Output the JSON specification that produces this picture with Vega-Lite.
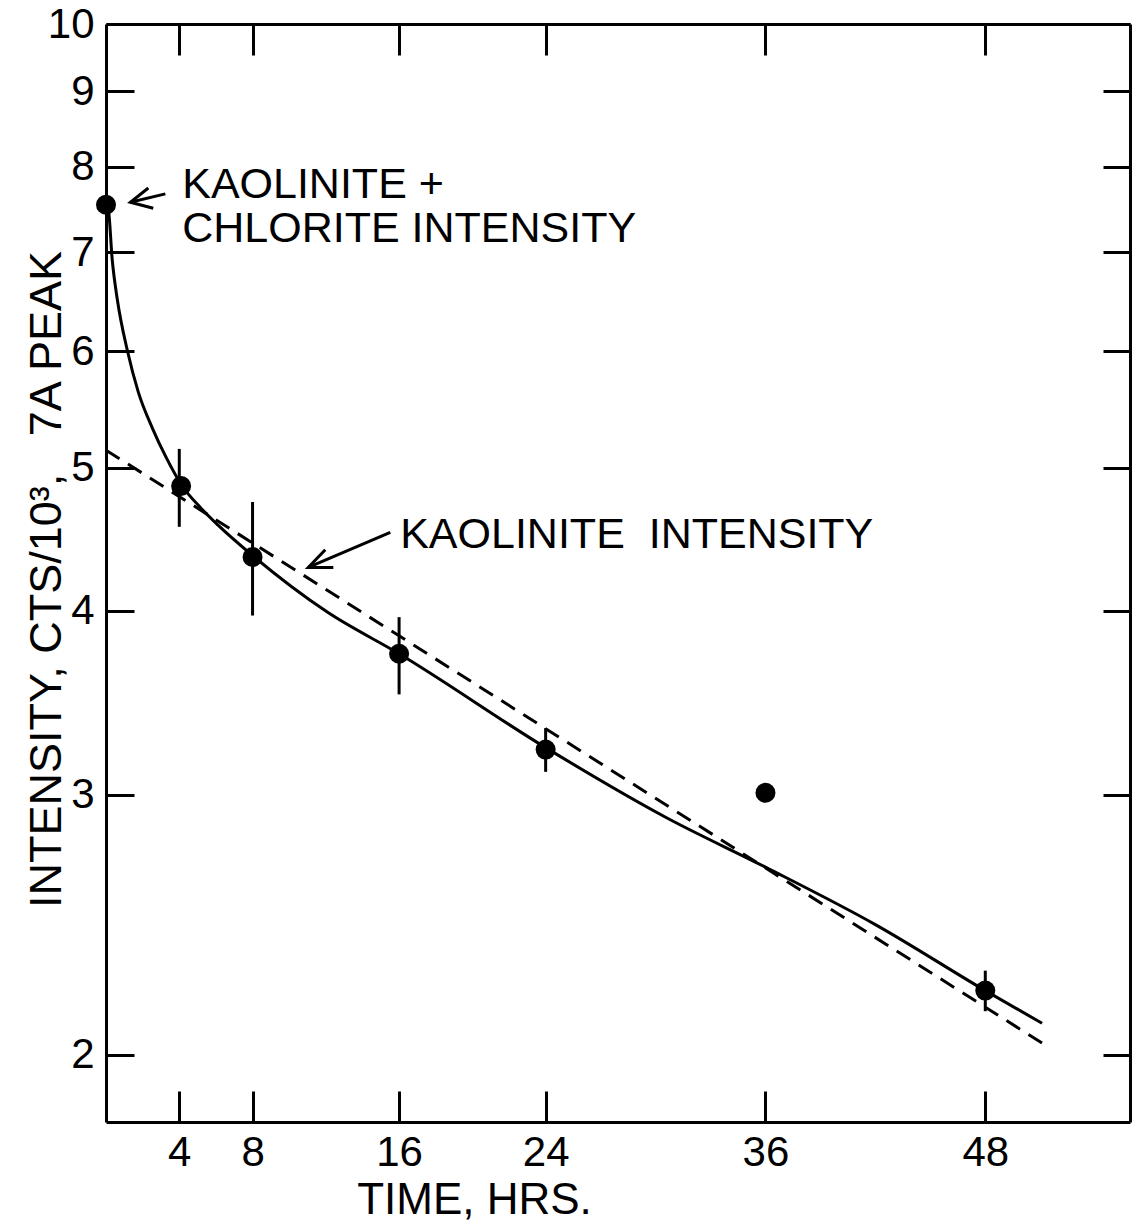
{
  "$schema": "https://vega.github.io/schema/vega-lite/v6.json",
  "width": 1024,
  "height": 1098,
  "autosize": {"type": "none"},
  "padding": {"left": 106, "top": 24, "right": 9, "bottom": 109},
  "background": "white",
  "config": {
    "view": {"stroke": null},
    "font": "Liberation Sans",
    "axis": {
      "domainColor": "black",
      "domainWidth": 3,
      "tickColor": "black",
      "tickWidth": 3,
      "labelColor": "black",
      "titleColor": "black",
      "labelFont": "Liberation Sans",
      "titleFont": "Liberation Sans",
      "labelFontSize": 42,
      "titleFontSize": 44,
      "titleFontWeight": "normal",
      "grid": false
    }
  },
  "datasets": {
    "solid": [
      {"t": 0, "v": 7.54}, {"t": 0.13, "v": 7.48}, {"t": 0.34, "v": 6.92}, {"t": 0.62, "v": 6.5},
      {"t": 1.16, "v": 6.01}, {"t": 1.76, "v": 5.63}, {"t": 2.53, "v": 5.32}, {"t": 3.29, "v": 5.08},
      {"t": 4.16, "v": 4.86}, {"t": 5.15, "v": 4.7}, {"t": 6.13, "v": 4.57}, {"t": 8, "v": 4.36},
      {"t": 12.1, "v": 3.99}, {"t": 16, "v": 3.74}, {"t": 24, "v": 3.23}, {"t": 30.6, "v": 2.895},
      {"t": 36, "v": 2.68}, {"t": 42, "v": 2.45}, {"t": 48, "v": 2.21}, {"t": 51.1, "v": 2.1}
    ],
    "dashed": [
      {"t": 0, "v": 5.14}, {"t": 24, "v": 3.327}, {"t": 51.4, "v": 2.025}
    ],
    "pts": [
      {"t": 0, "v": 7.54},
      {"t": 4.1, "v": 4.86},
      {"t": 8, "v": 4.35},
      {"t": 16, "v": 3.74},
      {"t": 24, "v": 3.22},
      {"t": 36, "v": 3.01},
      {"t": 48, "v": 2.21}
    ],
    "errs": [
      {"t": 4, "lo": 4.56, "hi": 5.15},
      {"t": 8, "lo": 3.97, "hi": 4.74},
      {"t": 16, "lo": 3.51, "hi": 3.96},
      {"t": 24, "lo": 3.11, "hi": 3.33},
      {"t": 48, "lo": 2.14, "hi": 2.28}
    ],
    "notes": [
      {"t": 4.16, "v": 7.62, "txt": "KAOLINITE +"},
      {"t": 4.16, "v": 7.115, "txt": "CHLORITE INTENSITY"},
      {"t": 16.06, "v": 4.41, "txt": "KAOLINITE\u00a0\u00a0INTENSITY"}
    ],
    "arrows": [
      {"a": "a1s", "o": 1, "t": 1.33, "v": 7.57},
      {"a": "a1s", "o": 2, "t": 3.24, "v": 7.67},
      {"a": "a1h", "o": 1, "t": 2.31, "v": 7.74},
      {"a": "a1h", "o": 2, "t": 1.33, "v": 7.57},
      {"a": "a1h", "o": 3, "t": 2.58, "v": 7.5},
      {"a": "a2s", "o": 1, "t": 11.04, "v": 4.28},
      {"a": "a2s", "o": 2, "t": 15.52, "v": 4.52},
      {"a": "a2h", "o": 1, "t": 11.97, "v": 4.4},
      {"a": "a2h", "o": 2, "t": 11.04, "v": 4.28},
      {"a": "a2h", "o": 3, "t": 12.41, "v": 4.28}
    ]
  },
  "resolve": {"axis": {"x": "independent", "y": "independent"}},
  "layer": [
    {
      "data": {"name": "solid"},
      "mark": {"type": "line", "color": "black", "strokeWidth": 3, "interpolate": "monotone"},
      "encoding": {
        "x": {
          "field": "t", "type": "quantitative",
          "scale": {"domain": [0, 55.9], "nice": false, "zero": false},
          "axis": {
            "orient": "bottom", "values": [4, 8, 16, 24, 36, 48], "tickSize": -31, "labelPadding": 41,
            "title": "TIME, HRS.", "titleX": 368, "titleY": 91, "titleBaseline": "alphabetic", "titleAlign": "center"
          }
        },
        "y": {
          "field": "v", "type": "quantitative",
          "scale": {"type": "log", "domain": [1.8, 10], "nice": false, "zero": false},
          "axis": {
            "orient": "left", "values": [2, 3, 4, 5, 6, 7, 8, 9, 10], "tickSize": -28, "labelPadding": 40,
            "title": "INTENSITY, CTS/10³,\u00a0\u00a0\u00a07A PEAK", "titleX": -46, "titleY": 555, "titleAngle": -90,
            "titleFontSize": 45, "titleBaseline": "alphabetic", "titleAlign": "center"
          }
        },
        "order": {"field": "t", "type": "quantitative"}
      }
    },
    {
      "data": {"name": "dashed"},
      "mark": {"type": "line", "color": "black", "strokeWidth": 3, "strokeDash": [16, 10]},
      "encoding": {
        "x": {
          "field": "t", "type": "quantitative",
          "axis": {"orient": "top", "values": [4, 8, 16, 24, 36, 48], "tickSize": -31, "labels": false, "title": null}
        },
        "y": {
          "field": "v", "type": "quantitative",
          "axis": {"orient": "right", "values": [2, 3, 4, 5, 6, 7, 8, 9, 10], "tickSize": -27, "labels": false, "title": null}
        }
      }
    },
    {
      "data": {"name": "errs"},
      "mark": {"type": "rule", "color": "black", "strokeWidth": 3},
      "encoding": {
        "x": {"field": "t", "type": "quantitative", "axis": null},
        "y": {"field": "lo", "type": "quantitative", "axis": null},
        "y2": {"field": "hi"}
      }
    },
    {
      "data": {"name": "pts"},
      "mark": {"type": "circle", "color": "black", "opacity": 1, "size": 400},
      "encoding": {
        "x": {"field": "t", "type": "quantitative", "axis": null},
        "y": {"field": "v", "type": "quantitative", "axis": null}
      }
    },
    {
      "data": {"name": "arrows"},
      "mark": {"type": "line", "color": "black", "strokeWidth": 3},
      "encoding": {
        "x": {"field": "t", "type": "quantitative", "axis": null},
        "y": {"field": "v", "type": "quantitative", "axis": null},
        "detail": {"field": "a", "type": "nominal"},
        "order": {"field": "o", "type": "quantitative"}
      }
    },
    {
      "data": {"name": "notes"},
      "mark": {"type": "text", "align": "left", "baseline": "alphabetic", "font": "Liberation Sans", "fontSize": 43, "color": "black"},
      "encoding": {
        "x": {"field": "t", "type": "quantitative", "axis": null},
        "y": {"field": "v", "type": "quantitative", "axis": null},
        "text": {"field": "txt", "type": "nominal"}
      }
    }
  ]
}
